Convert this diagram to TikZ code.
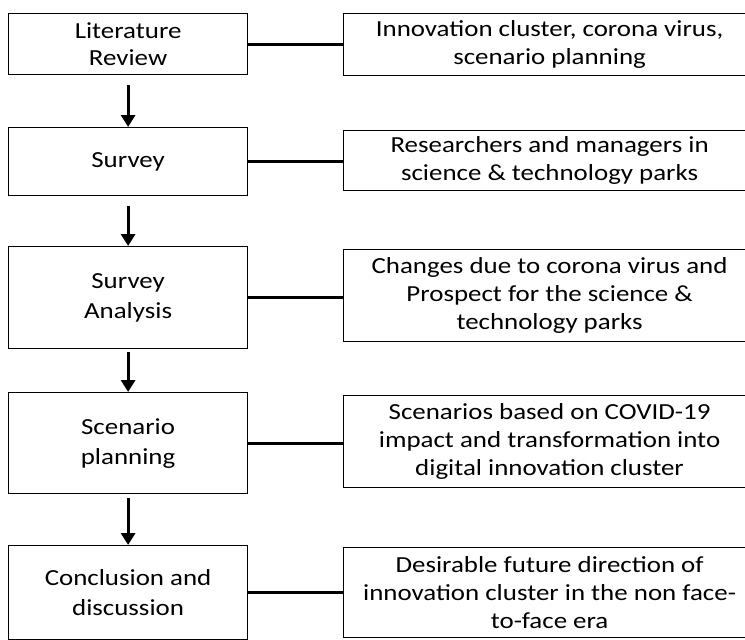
\documentclass[tikz,border=0pt]{standalone}
\usepackage{fontspec}
\setmainfont{Carlito}[FakeStretch=1.17]
\usetikzlibrary{arrows.meta}
\begin{document}
\begin{tikzpicture}[x=1pt,y=-1pt,
	stage/.style={draw,line width=1.2pt,align=center,minimum width=239pt,anchor=north west,inner sep=0pt,font=\fontsize{23}{30}\selectfont},
	detail/.style={draw,line width=1.2pt,align=center,minimum width=412pt,anchor=north west,inner sep=0pt,font=\fontsize{23}{28}\selectfont},
	link/.style={line width=3pt},
	flow/.style={line width=3pt,-{Triangle[length=12pt,width=14pt]}}]
	\useasboundingbox (0,0) rectangle (745,640);
	\clip (0,0) rectangle (745,640);
	\node [stage,minimum height=61pt,font=\fontsize{23}{27}\selectfont] (lit) at (8,13) {Literature\\Review};
	\node [stage,minimum height=68pt] (survey) at (8,127) {Survey};
	\node [stage,minimum height=102pt] (analysis) at (8,246) {Survey\\Analysis};
	\node [stage,minimum height=101pt] (scen) at (8,392) {Scenario\\planning};
	\node [stage,minimum height=94pt] (concl) at (8,545) {Conclusion and\\discussion};
	\node [detail,minimum height=62pt] (litR) at (343,13) {Innovation cluster, corona virus,\\scenario planning};
	\node [detail,minimum height=60pt] (surveyR) at (343,130) {Researchers and managers in\\science \& technology parks};
	\node [detail,minimum height=92pt] (analysisR) at (343,249) {Changes due to corona virus and\\Prospect for the science \&\\technology parks};
	\node [detail,minimum height=92pt] (scenR) at (343,395) {Scenarios based on COVID-19\\impact and transformation into\\digital innovation cluster};
	\node [detail,minimum height=90pt] (conclR) at (343,547) {Desirable future direction of\\innovation cluster in the non face-\\to-face era};
	\draw [link] (lit.east) -- (lit.east -| litR.west);
	\draw [link] (survey.east) -- (survey.east -| surveyR.west);
	\draw [link] (analysis.east) -- (analysis.east -| analysisR.west);
	\draw [link] (scen.east) -- (scen.east -| scenR.west);
	\draw [link] (concl.east) -- (concl.east -| conclR.west);
	\draw [flow,shorten <=10pt] (lit) -- (survey);
	\draw [flow,shorten <=10pt] (survey) -- (analysis);
	\draw [flow,shorten <=3pt] (analysis) -- (scen);
	\draw [flow,shorten <=4pt] (scen) -- (concl);
\end{tikzpicture}
\end{document}
